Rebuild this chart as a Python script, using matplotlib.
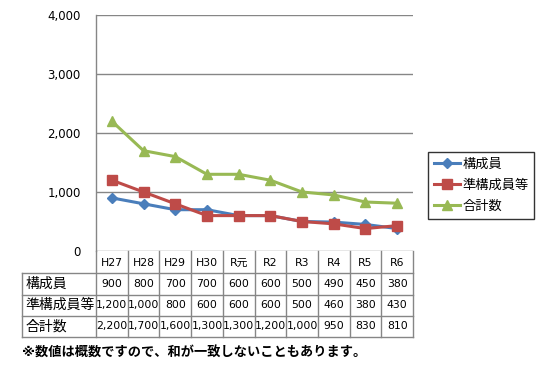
import matplotlib
matplotlib.use("Agg")
from matplotlib import pyplot as plt

plt.rcParams['font.family'] = ['DejaVu Sans', 'Noto Sans CJK JP']

# data
years = ['H27', 'H28', 'H29', 'H30', 'R元', 'R2', 'R3', 'R4', 'R5', 'R6']
members = [900, 800, 700, 700, 600, 600, 500, 490, 450, 380]
associates = [1200, 1000, 800, 600, 600, 600, 500, 460, 380, 430]
totals = [2200, 1700, 1600, 1300, 1300, 1200, 1000, 950, 830, 810]
series_names = ['構成員', '準構成員等', '合計数']
yticks = [0, 1000, 2000, 3000, 4000]
note = '※数値は概数ですので、和が一致しないこともあります。'

W, H = 543, 375
grid_col = '#868686'

fig = plt.figure(figsize=(W / 100, H / 100), dpi=100)
fig.patch.set_facecolor('white')

# main plot area (pixels: x 96..413, y 15..251)
ax = fig.add_axes([96 / W, (H - 251) / H, (413 - 96) / W, (251 - 15) / H])
x = list(range(len(years)))
ax.plot(x, members, color='#4A7EBB', lw=2.2, marker='D', ms=5, label=series_names[0])
ax.plot(x, associates, color='#BE4B48', lw=2.2, marker='s', ms=6.5, label=series_names[1])
ax.plot(x, totals, color='#98B954', lw=2.2, marker='^', ms=7.5, label=series_names[2])

ax.set_xlim(-0.5, 9.5)
ax.set_ylim(0, 4000)
ax.set_yticks(yticks)
ax.set_yticklabels(['{:,}'.format(v) for v in yticks], fontsize=8.5)
ax.set_xticks([])
ax.tick_params(axis='y', length=0, pad=11)
for v in yticks:
    ax.axhline(v, color=grid_col, lw=1, zorder=0)
for s in ['top', 'right', 'bottom']:
    ax.spines[s].set_visible(False)
ax.spines['left'].set_color(grid_col)
ax.spines['left'].set_linewidth(1)

# data table below the plot (pixels: x 22..413, y 251..337)
colw = (413 - 96) / 10
lab_units = (96 - 22) / colw
tx = fig.add_axes([22 / W, (H - 337) / H, (413 - 22) / W, (337 - 251) / H])
tx.set_xlim(-0.5 - lab_units, 9.5)
tx.set_ylim(86, 0)
tx.axis('off')
left = -0.5 - lab_units
rows_y = [22, 43.5, 64.5, 86]
for yy in rows_y:
    tx.plot([left, 9.5], [yy, yy], color=grid_col, lw=1, clip_on=False)
tx.plot([left, left], [22, 86], color=grid_col, lw=1, clip_on=False)
for k in range(11):
    tx.plot([k - 0.5, k - 0.5], [0, 86], color=grid_col, lw=1, clip_on=False)

for i, yr in enumerate(years):
    tx.text(i, 12, yr, ha='center', va='center', fontsize=7.8)

table_rows = [members, associates, totals]
for r, (name, vals) in enumerate(zip(series_names, table_rows)):
    yc = (rows_y[r] + rows_y[r + 1]) / 2
    tx.text(left + 0.1, yc, name, ha='left', va='center', fontsize=10)
    for i, v in enumerate(vals):
        tx.text(i, yc, '{:,}'.format(v), ha='center', va='center', fontsize=7.8)

fig.text(22 / W, (H - 352) / H, note, ha='left', va='center', fontsize=9.5,
         fontweight='bold')

leg = fig.legend(loc='upper left', bbox_to_anchor=(428 / W, (H - 152) / H),
                 fontsize=9.5, frameon=True, fancybox=False, handlelength=2.0,
                 borderpad=0.45, labelspacing=0.6, handletextpad=0.15,
                 borderaxespad=0)
leg.get_frame().set_edgecolor('black')
leg.get_frame().set_linewidth(1)

fig.savefig('out.png', dpi=100)
